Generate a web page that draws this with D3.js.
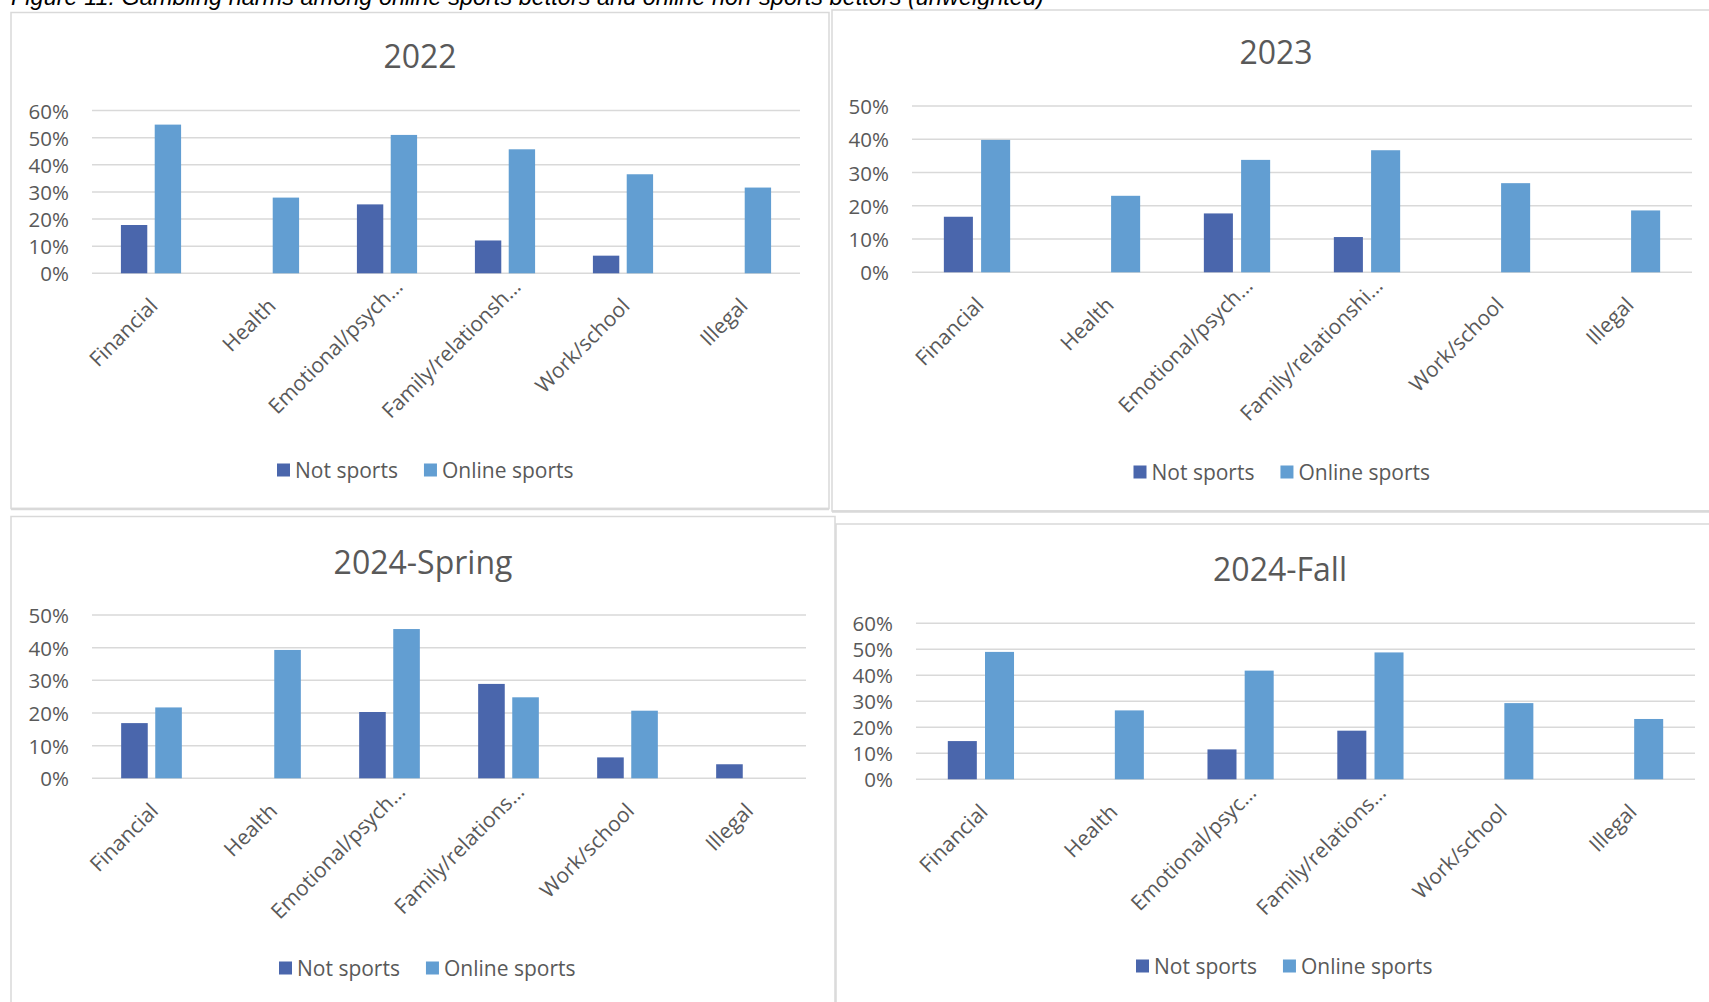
<!DOCTYPE html>
<html>
<head>
<meta charset="utf-8">
<script src="https://cdn.jsdelivr.net/npm/d3@7"></script>
<style>
  html, body { margin: 0; padding: 0; background: #fff; overflow: hidden; }
  svg { display: block; }
  text { font-family: "Open Sans", "Noto Sans", sans-serif; fill: #595959; }
</style>
</head>
<body>
<svg id="chart" width="1709" height="1002"></svg>
<script>
// ---- Data (percent of respondents reporting each gambling harm) ----
const series = ["Not sports", "Online sports"];
const seriesColors = ["#4a66ac", "#629ed2"];

const labels2022 = ["Financial", "Health", "Emotional/psych…", "Family/relationsh…", "Work/school", "Illegal"];
const notSports2022 = [17.8, 0, 25.4, 12.1, 6.5, 0];
const onlineSports2022 = [54.8, 27.9, 51.0, 45.7, 36.5, 31.6];
const ticks2022 = [0, 10, 20, 30, 40, 50, 60];

const labels2023 = ["Financial", "Health", "Emotional/psych…", "Family/relationshi…", "Work/school", "Illegal"];
const notSports2023 = [16.7, 0, 17.7, 10.6, 0, 0];
const onlineSports2023 = [39.8, 23.0, 33.8, 36.7, 26.8, 18.6];
const ticks2023 = [0, 10, 20, 30, 40, 50];

const labelsSpring = ["Financial", "Health", "Emotional/psych…", "Family/relations…", "Work/school", "Illegal"];
const notSportsSpring = [16.9, 0, 20.3, 28.9, 6.4, 4.3];
const onlineSportsSpring = [21.7, 39.3, 45.7, 24.8, 20.7, 0];
const ticksSpring = [0, 10, 20, 30, 40, 50];

const labelsFall = ["Financial", "Health", "Emotional/psyc…", "Family/relations…", "Work/school", "Illegal"];
const notSportsFall = [14.7, 0, 11.5, 18.7, 0, 0];
const onlineSportsFall = [49.0, 26.5, 41.8, 48.8, 29.3, 23.2];
const ticksFall = [0, 10, 20, 30, 40, 50, 60];

const caption = "Figure 11: Gambling harms among online sports bettors and online non-sports bettors (unweighted)";

// ---- Panel layout ----
const panels = [
  { title: "2022", labels: labels2022, values: [notSports2022, onlineSports2022], ticks: ticks2022,
    box: [11, 12.5, 829, 508.5], plot: [92, 800, 110.5, 273.3], titlePos: [420, 55], legendPos: [277, 470] },
  { title: "2023", labels: labels2023, values: [notSports2023, onlineSports2023], ticks: ticks2023,
    box: [832, 10, 1720, 511], plot: [912, 1692, 106, 272.3], titlePos: [1276, 51], legendPos: [1133.5, 472] },
  { title: "2024-Spring", labels: labelsSpring, values: [notSportsSpring, onlineSportsSpring], ticks: ticksSpring,
    box: [11, 516.5, 835, 1012], plot: [92, 806, 615, 778.3], titlePos: [423, 561], legendPos: [279, 968] },
  { title: "2024-Fall", labels: labelsFall, values: [notSportsFall, onlineSportsFall], ticks: ticksFall,
    box: [836, 524, 1720, 1012], plot: [916, 1695, 623.3, 779.3], titlePos: [1280, 568], legendPos: [1136, 966] }
];

const svg = d3.select("#chart");

// Figure caption along the top edge of the page
svg.append("text")
  .attr("x", 11).attr("y", 5)
  .style("font-family", "'Liberation Sans', Arial, sans-serif")
  .style("font-style", "italic")
  .style("font-size", "23.5px")
  .style("fill", "#000")
  .text(caption);

panels.forEach(p => {
  const g = svg.append("g");
  const [bx0, by0, bx1, by1] = p.box;

  // panel frame
  g.append("rect")
    .attr("x", bx0).attr("y", by0)
    .attr("width", bx1 - bx0).attr("height", by1 - by0)
    .attr("fill", "#fff")
    .attr("stroke", "#d9d9d9").attr("stroke-width", 1.5);

  const [left, right, top, bottom] = p.plot;
  const yMax = d3.max(p.ticks);

  const x0 = d3.scaleBand()
    .domain(p.labels)
    .range([left, right])
    .paddingInner(0.49)
    .paddingOuter(0.245);

  const x1 = d3.scaleBand()
    .domain(series)
    .range([0, x0.bandwidth()])
    .paddingInner(0.22);

  const y = d3.scaleLinear().domain([0, yMax]).range([bottom, top]);

  // gridlines
  g.append("g").selectAll("line")
    .data(p.ticks)
    .join("line")
    .attr("x1", left).attr("x2", right)
    .attr("y1", d => y(d)).attr("y2", d => y(d))
    .attr("stroke", "#d9d9d9").attr("stroke-width", 1.5);

  // y tick labels
  g.append("g").selectAll("text")
    .data(p.ticks)
    .join("text")
    .attr("x", left - 23)
    .attr("y", d => y(d))
    .attr("text-anchor", "end")
    .attr("dominant-baseline", "central")
    .style("font-size", "20.5px")
    .text(d => d + "%");

  // bars
  const rows = [];
  p.labels.forEach((cat, i) => {
    series.forEach((s, j) => {
      const v = p.values[j][i];
      if (v > 0) rows.push({ cat, s, j, v });
    });
  });
  g.append("g").selectAll("rect")
    .data(rows)
    .join("rect")
    .attr("x", d => x0(d.cat) + x1(d.s))
    .attr("width", x1.bandwidth())
    .attr("y", d => y(d.v))
    .attr("height", d => y(0) - y(d.v))
    .attr("fill", d => seriesColors[d.j]);

  // category labels, rotated
  g.append("g").selectAll("text")
    .data(p.labels)
    .join("text")
    .attr("transform", d => {
      const cx = x0(d) + x0.bandwidth() / 2;
      const trunc = d.endsWith("…");
      const dx = trunc ? 17 : 8;
      const dy = trunc ? 15 : 34;
      return `translate(${cx + dx},${bottom + dy}) rotate(-45)`;
    })
    .attr("text-anchor", "end")
    .style("font-size", "21px")
    .text(d => d);

  // title
  g.append("text")
    .attr("x", p.titlePos[0]).attr("y", p.titlePos[1])
    .attr("text-anchor", "middle")
    .attr("dominant-baseline", "central")
    .style("font-size", "32px")
    .text(p.title);

  // legend
  const lg = g.append("g").attr("transform", `translate(${p.legendPos[0]},${p.legendPos[1]})`);
  let cursor = 0;
  series.forEach((s, j) => {
    lg.append("rect")
      .attr("x", cursor).attr("y", -6.5)
      .attr("width", 13).attr("height", 13)
      .attr("fill", seriesColors[j]);
    const t = lg.append("text")
      .attr("x", cursor + 18).attr("y", 0)
      .attr("dominant-baseline", "central")
      .style("font-size", "21px")
      .text(s);
    cursor += 18 + t.node().getComputedTextLength() + 26;
  });
});

// heavier lower edges on the upper panels
svg.append("line").attr("x1", 11).attr("x2", 829).attr("y1", 509).attr("y2", 509)
  .attr("stroke", "#d9d9d9").attr("stroke-width", 2.5);
svg.append("line").attr("x1", 832).attr("x2", 1709).attr("y1", 511.5).attr("y2", 511.5)
  .attr("stroke", "#d9d9d9").attr("stroke-width", 2.5);
</script>
</body>
</html>
